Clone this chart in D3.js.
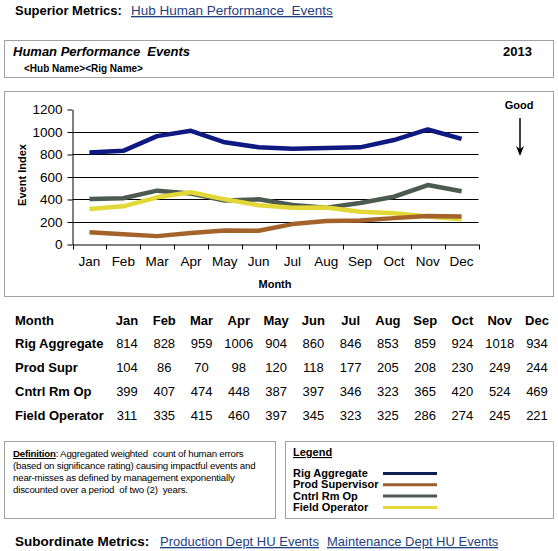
<!DOCTYPE html>
<html><head><meta charset="utf-8">
<script src="https://cdn.jsdelivr.net/npm/d3@7/dist/d3.min.js"></script>
<style>
body{margin:0;background:#fff;}
svg{display:block;font-family:"Liberation Sans",Arial,sans-serif;}
svg text{white-space:pre;}
</style></head><body>
<script>
const months = ["Jan","Feb","Mar","Apr","May","Jun","Jul","Aug","Sep","Oct","Nov","Dec"];
const rigAggregate = [814,828,959,1006,904,860,846,853,859,924,1018,934];
const prodSupr = [104,86,70,98,120,118,177,205,208,230,249,244];
const cntrlRmOp = [399,407,474,448,387,397,346,323,365,420,524,469];
const fieldOperator = [311,335,415,460,397,345,323,325,286,274,245,221];
const yTicks = [0,200,400,600,800,1000,1200];
const gridTicks = [200,400,600,800,1000];

const series = [
  {name:"Rig Aggregate", table:"Rig Aggregate", values:rigAggregate, color:"#0e1a82", legendColor:"#0f1f52"},
  {name:"Prod Supervisor", table:"Prod Supr", values:prodSupr, color:"#a5632c", legendColor:"#9a5f2e"},
  {name:"Cntrl Rm Op", table:"Cntrl Rm Op", values:cntrlRmOp, color:"#4c5a52", legendColor:"#4c5a52"},
  {name:"Field Operator", table:"Field Operator", values:fieldOperator, color:"#e2d838", legendColor:"#e6d83a"}
];

const W=558,H=551;
const svg=d3.select("body").append("svg").attr("width",W).attr("height",H);
const linkColor="#1f3f7f";

// Superior metrics
svg.append("text").attr("x",15).attr("y",15).attr("font-size",13).attr("font-weight","bold").text("Superior Metrics:");
svg.append("text").attr("x",131).attr("y",15).attr("font-size",13.5).attr("fill",linkColor).attr("text-decoration","underline").text("Hub Human Performance  Events");

// Title box
svg.append("rect").attr("x",4.5).attr("y",40.5).attr("width",549).attr("height",37).attr("fill","none").attr("stroke","#a0a0a0");
svg.append("text").attr("x",13).attr("y",56).attr("font-size",13).attr("font-weight","bold").attr("font-style","italic").text("Human Performance  Events");
svg.append("text").attr("x",532).attr("y",56).attr("text-anchor","end").attr("font-size",13).attr("font-weight","bold").text("2013");
svg.append("text").attr("x",24).attr("y",72).attr("font-size",10).attr("font-weight","bold").text("<Hub Name><Rig Name>");

// Chart box
svg.append("rect").attr("x",4.5).attr("y",91.5).attr("width",549).attr("height",205).attr("fill","none").attr("stroke","#a0a0a0");

const x=d3.scaleBand().domain(months).range([72.5,478.5]);
const y=d3.scaleLinear().domain([0,1200]).range([244,109]);

const g=svg.append("g");
g.selectAll("line.grid").data(gridTicks).join("line").attr("class","grid")
  .attr("x1",72.5).attr("x2",478.5).attr("y1",d=>Math.round(y(d))+0.5).attr("y2",d=>Math.round(y(d))+0.5)
  .attr("stroke","#000").attr("stroke-width",1);

const yAxis=g.append("g").attr("transform","translate(72.5,0.5)")
  .call(d3.axisLeft(y).tickValues(yTicks).tickFormat(d3.format("d")).tickSize(5).tickPadding(5).tickSizeOuter(0));
yAxis.select(".domain").attr("stroke","#000");
yAxis.selectAll("text").attr("font-size",13.5).attr("font-family","Liberation Sans,Arial,sans-serif");

const xAxis=g.append("g").attr("transform","translate(0,244.5)")
  .call(d3.axisBottom(x).tickSize(0).tickPadding(12).tickSizeOuter(0));
xAxis.select(".domain").attr("stroke","#000");
xAxis.selectAll("text").attr("font-size",13.5).attr("font-family","Liberation Sans,Arial,sans-serif");
g.selectAll("line.xt").data(months.concat(["end"])).join("line").attr("class","xt")
  .attr("x1",(d,i)=>Math.round(i<12?x(d):x.range()[1])+0.5).attr("x2",(d,i)=>Math.round(i<12?x(d):x.range()[1])+0.5)
  .attr("y1",244.5).attr("y2",249.5).attr("stroke","#000");

const line=d3.line().x((d,i)=>x(months[i])+x.bandwidth()/2).y(d=>y(d));
const drawOrder=[series[2],series[3],series[1],series[0]];
g.selectAll("path.s").data(drawOrder).join("path").attr("class","s")
  .attr("d",d=>line(d.values)).attr("fill","none").attr("stroke",d=>d.color)
  .attr("stroke-width",4.5).attr("stroke-linejoin","round");

svg.append("text").attr("transform","translate(26,175) rotate(-90)").attr("text-anchor","middle")
  .attr("font-size",11).attr("font-weight","bold").text("Event Index");
svg.append("text").attr("x",275).attr("y",288).attr("text-anchor","middle")
  .attr("font-size",11).attr("font-weight","bold").text("Month");

// Good arrow
svg.append("text").attr("x",519).attr("y",109).attr("text-anchor","middle").attr("font-size",11).attr("font-weight","bold").text("Good");
svg.append("line").attr("x1",520).attr("x2",520).attr("y1",118).attr("y2",150).attr("stroke","#000").attr("stroke-width",1.5);
svg.append("path").attr("d","M516,146 L520,156 L524,146 L520,149 Z").attr("fill","#000");

// Table
const cx=d3.scalePoint().domain(months).range([127,537]);
const rowY=[325,348,372,396,420];
svg.append("text").attr("x",15).attr("y",rowY[0]).attr("font-size",13).attr("font-weight","bold").text("Month");
svg.selectAll("text.mh").data(months).join("text").attr("class","mh")
  .attr("x",d=>cx(d)).attr("y",rowY[0]).attr("text-anchor","middle").attr("font-size",13).attr("font-weight","bold").text(d=>d);
series.forEach((s,si)=>{
  svg.append("text").attr("x",15).attr("y",rowY[si+1]).attr("font-size",13).attr("font-weight","bold").text(s.table);
  svg.selectAll("text.v"+si).data(s.values).join("text").attr("class","v"+si)
    .attr("x",(d,i)=>cx(months[i])).attr("y",rowY[si+1]).attr("text-anchor","middle").attr("font-size",13).text(d=>d);
});

// Definition box
svg.append("rect").attr("x",4.5).attr("y",441.5).attr("width",271).attr("height",77).attr("fill","none").attr("stroke","#a0a0a0");
const defLines=["Aggregated weighted  count of human errors","(based on significance rating) causing impactful events and","near-misses as defined by management exponentially","discounted over a period  of two (2)  years."];
const dt=svg.append("text").attr("x",13).attr("y",457).attr("font-size",9.7).attr("letter-spacing",-0.2);
dt.append("tspan").attr("font-weight","bold").attr("text-decoration","underline").text("Definition");
dt.append("tspan").text(": "+defLines[0]);
defLines.slice(1).forEach((t,i)=>{
  svg.append("text").attr("x",13).attr("y",469+i*12).attr("font-size",9.7).attr("letter-spacing",-0.2).text(t);
});

// Legend box
svg.append("rect").attr("x",285.5).attr("y",441.5).attr("width",268).attr("height",77).attr("fill","none").attr("stroke","#a0a0a0");
svg.append("text").attr("x",293).attr("y",456).attr("font-size",11).attr("font-weight","bold").attr("text-decoration","underline").text("Legend");
const lg=svg.selectAll("g.lg").data(series).join("g").attr("class","lg")
  .attr("transform",(d,i)=>`translate(0,${477+i*11.3})`);
lg.append("text").attr("x",293).attr("y",0).attr("font-size",11).attr("font-weight","bold").text(d=>d.name);
lg.append("line").attr("x1",383).attr("x2",437).attr("y1",-3.5).attr("y2",-3.5).attr("stroke",d=>d.legendColor).attr("stroke-width",3);

// Subordinate metrics
svg.append("text").attr("x",15).attr("y",546).attr("font-size",13.5).attr("font-weight","bold").text("Subordinate Metrics:");
svg.append("text").attr("x",160).attr("y",546).attr("font-size",13).attr("fill",linkColor).attr("text-decoration","underline").text("Production Dept HU Events");
svg.append("text").attr("x",327).attr("y",546).attr("font-size",13).attr("fill",linkColor).attr("text-decoration","underline").text("Maintenance Dept HU Events");
</script>
</body></html>
